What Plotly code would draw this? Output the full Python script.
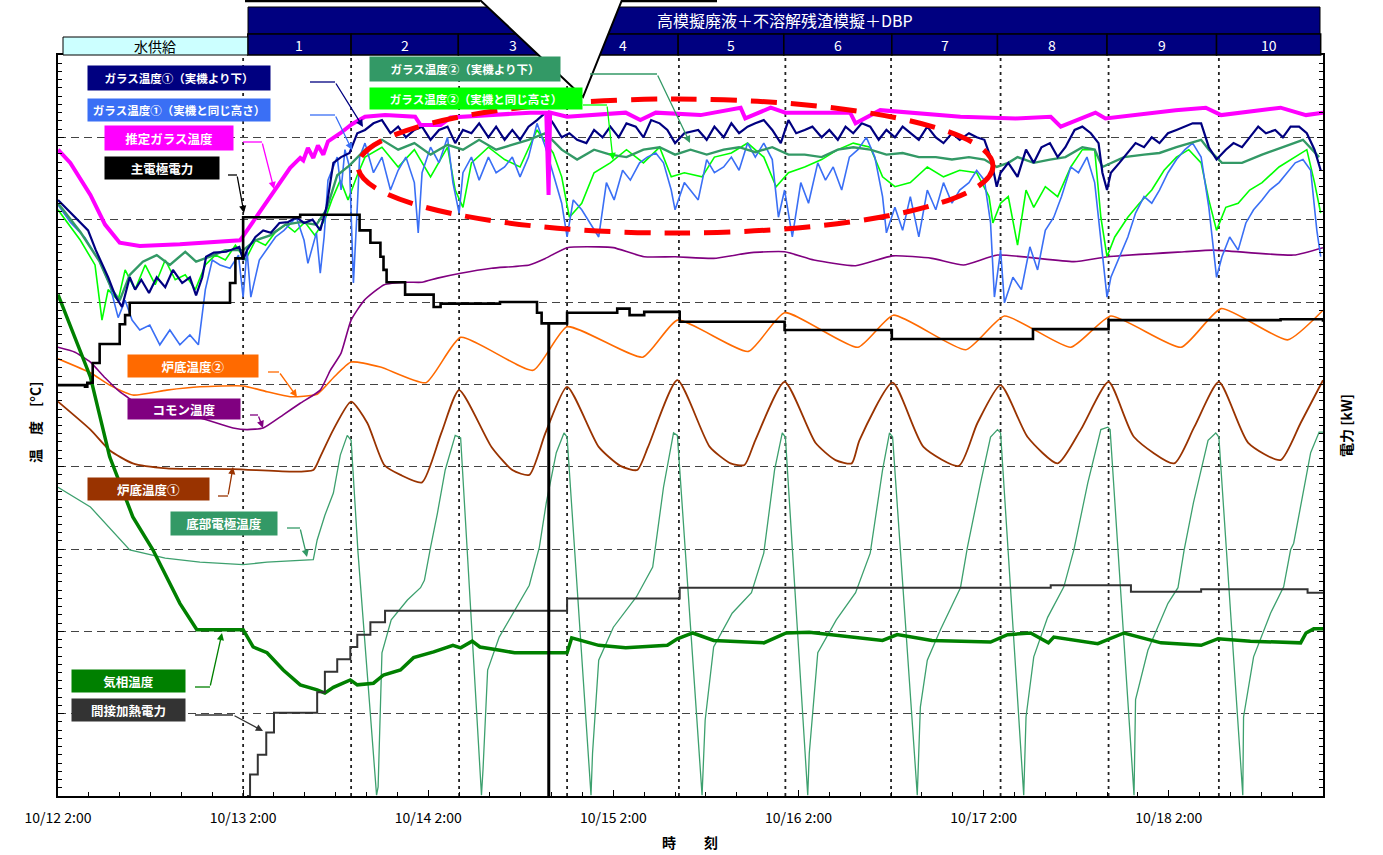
import pandas as pd
import plotly.graph_objects as go

# ---------------- data (hours since 10/12 2:00, temperature / power values) ----------------
START = "2010-10-12 02:00"
END_HOURS = 164.0

glass1_low = [(0,724),(1.7,708),(3.9,687),(4.9,663),(6.5,630),(7.5,606),(8.3,594),(9.3,630),(10.0,615),(10.8,627),(11.8,611),(12.8,630),(13.9,618),(14.9,639),(16.1,623),(17.1,630),(17.9,608),(18.7,630),(19.2,655),(20.2,660),(21.8,661),(23.5,667),(24.0,651),(24.5,663),(25.6,679),(26.6,687),(27.6,684),(28.7,696),(29.8,697),(30.9,703),(31.9,696),(33.0,700),(34.0,687),(34.8,715),(35.7,769),(36.7,776),(37.8,781),(38.8,805),(39.8,809),(40.9,817),(42.0,821),(43.1,805),(44.1,813),(45.1,800),(46.2,809),(47.2,813),(48.3,797),(49.4,809),(50.5,813),(51.5,793),(52.5,809),(53.6,805),(54.6,817),(55.8,800),(56.8,813),(57.9,797),(58.9,809),(59.9,797),(61.0,813),(62.1,821),(63.2,830),(64.2,817),(65.3,800),(66.3,805),(67.3,797),(68.5,793),(69.5,809),(70.6,800),(71.6,813),(72.7,800),(73.7,817),(74.9,813),(75.9,800),(76.9,821),(78.0,817),(79.0,809),(80.0,793),(81.2,805),(83.0,809),(84.1,797),(85.1,813),(86.3,800),(87.3,817),(88.3,805),(89.4,813),(90.4,817),(91.5,821),(92.6,809),(93.7,793),(94.7,821),(95.7,805),(96.8,809),(97.8,813),(99.0,800),(100.0,809),(101.1,797),(102.1,813),(103.1,805),(104.2,817),(105.3,813),(106.4,797),(107.4,809),(108.5,800),(109.5,813),(110.5,805),(111.6,797),(112.7,813),(113.8,800),(114.8,793),(115.9,805),(116.9,797),(118.1,805),(119.1,800),(120.1,797),(120.9,776),(121.7,740),(122.2,757),(123.2,769),(124.4,752),(125.5,785),(126.5,769),(127.5,788),(128.6,793),(129.6,776),(130.6,788),(131.8,809),(132.8,813),(133.9,805),(134.9,793),(135.4,757),(136.0,736),(136.5,757),(137.6,769),(138.7,781),(139.7,793),(140.8,788),(141.8,800),(142.8,793),(143.9,805),(145.0,809),(146.1,813),(147.1,817),(148.2,817),(149.2,788),(150.2,773),(151.4,785),(152.4,793),(153.5,788),(154.5,800),(155.6,813),(156.6,805),(157.8,809),(158.8,800),(159.8,813),(160.9,813),(161.9,805),(162.9,785),(163.7,760)]

glass1_same = [(0,718),(1.6,697),(3.5,678),(5.4,649),(6.7,621),(7.8,581),(8.7,602),(9.6,578),(10.6,566),(11.9,572),(13.2,548),(14.5,566),(15.8,548),(17.1,560),(18.2,548),(19.1,615),(20.0,651),(21.0,645),(22.3,641),(23.4,657),(24.0,606),(24.5,663),(25.0,606),(26.1,651),(28.2,679),(29.3,687),(30.9,703),(31.9,675),(32.4,647),(33.5,684),(34.0,635),(34.5,679),(35.0,748),(36.2,776),(36.7,736),(37.2,785),(37.8,764),(38.3,623),(38.8,715),(39.1,776),(39.8,793),(40.9,757),(42.0,776),(43.1,736),(44.1,760),(45.1,776),(46.2,745),(46.7,684),(47.2,757),(48.3,788),(49.4,769),(50.5,800),(51.2,745),(52.0,708),(52.5,757),(53.6,776),(54.6,748),(55.8,776),(56.8,757),(57.9,764),(58.9,776),(59.9,752),(61.0,776),(62.1,817),(63.2,788),(64.2,757),(65.3,720),(66.0,679),(66.8,724),(67.9,712),(69.0,696),(70.1,679),(71.1,745),(72.1,724),(73.2,760),(74.2,748),(75.4,769),(76.4,776),(77.5,781),(78.5,769),(79.5,736),(80.0,712),(81.2,745),(83.0,724),(84.1,773),(85.1,757),(86.3,764),(87.3,776),(88.3,760),(89.4,793),(90.4,776),(91.5,793),(92.6,773),(93.4,703),(94.2,736),(95.2,679),(96.3,745),(97.3,720),(98.5,769),(99.5,748),(100.5,764),(101.6,736),(102.6,776),(103.7,785),(104.8,800),(105.9,776),(106.9,728),(107.4,684),(108.5,715),(109.5,687),(110.5,728),(111.6,679),(112.7,736),(113.8,712),(114.8,745),(115.9,720),(116.9,736),(118.1,745),(119.1,760),(120.1,748),(120.9,696),(121.4,606),(122.2,663),(122.7,599),(123.8,630),(124.9,615),(126.0,667),(127.0,639),(128.0,687),(129.1,703),(130.1,728),(131.3,764),(132.3,757),(133.4,776),(134.4,745),(135.2,675),(136.0,606),(136.5,630),(137.6,655),(138.7,679),(139.7,708),(140.8,728),(141.8,720),(142.8,736),(143.9,757),(145.0,773),(146.1,785),(147.1,793),(148.2,776),(149.2,715),(150.2,630),(150.9,655),(151.9,679),(153.0,663),(154.0,696),(155.0,712),(156.1,724),(157.1,736),(158.3,745),(159.3,757),(160.4,769),(161.4,773),(162.4,760),(163.2,687),(163.7,655)]

glass2_low = [(0,720),(2.9,685),(5.4,649),(7.0,615),(8.0,602),(9.3,633),(11.0,649),(12.8,657),(14.5,645),(16.5,661),(17.9,649),(19.7,655),(21.7,663),(24.0,663),(25.6,675),(27.5,681),(29.5,694),(31.4,697),(33.5,694),(34.8,712),(36.2,754),(37.8,766),(39.8,785),(42.0,797),(44.1,785),(46.2,793),(48.3,779),(50.5,791),(52.5,785),(54.6,797),(56.8,785),(58.9,791),(61.0,797),(63.2,805),(65.3,785),(67.3,773),(69.5,785),(71.6,779),(73.7,776),(75.9,785),(78.0,788),(80.0,779),(82.0,785),(84.1,779),(86.3,785),(88.3,788),(90.4,782),(92.6,788),(94.7,779),(96.8,779),(99.0,776),(101.1,785),(103.1,788),(105.3,785),(107.4,779),(109.5,781),(111.6,776),(113.8,776),(115.9,773),(118.1,776),(120.1,773),(121.7,764),(123.2,769),(124.4,776),(126.5,769),(128.6,773),(130.6,776),(132.8,788),(134.4,785),(135.4,764),(136.5,769),(138.2,776),(140.8,779),(142.8,781),(145.0,788),(148.2,797),(149.2,785),(150.9,769),(153.5,769),(156.1,779),(158.8,788),(161.4,797),(163.5,776)]

glass2_same = [(0,712),(2.9,675),(4.8,645),(5.7,578),(6.5,615),(7.8,602),(8.7,639),(10.0,615),(11.3,645),(12.6,621),(13.9,651),(15.2,627),(16.5,633),(17.8,615),(19.1,645),(20.4,657),(21.7,651),(23.0,669),(24.3,651),(25.6,675),(26.9,669),(28.2,685),(29.5,694),(30.7,685),(32.0,697),(33.3,681),(34.6,700),(35.5,724),(36.6,748),(37.6,724),(38.8,754),(39.8,776),(42.0,788),(44.1,764),(46.2,785),(48.3,752),(50.5,788),(51.5,736),(52.5,715),(53.6,769),(55.8,788),(57.9,773),(59.9,764),(62.1,809),(64.2,781),(65.3,752),(66.3,703),(67.9,720),(69.5,757),(71.6,769),(73.7,785),(75.9,769),(78.0,788),(79.5,752),(81.2,757),(83.5,752),(85.1,776),(87.3,781),(89.4,793),(91.5,776),(93.1,740),(94.7,757),(96.8,764),(99.0,773),(101.1,785),(103.1,793),(105.3,788),(106.9,752),(108.5,740),(110.5,745),(112.7,764),(114.8,752),(116.9,760),(119.1,757),(120.7,728),(121.2,696),(122.2,720),(123.2,728),(124.4,669),(125.5,736),(126.5,715),(128.0,740),(129.6,728),(131.3,764),(132.8,785),(134.4,785),(135.2,703),(136.0,655),(137.0,679),(138.7,703),(140.2,720),(141.8,736),(143.4,760),(145.0,776),(146.6,785),(148.2,769),(149.2,724),(150.2,687),(151.4,715),(153.0,720),(154.5,736),(156.1,745),(158.3,764),(160.4,776),(161.9,785),(162.9,745),(163.7,708)]

glass_estimated = [(0,785),(1.6,769),(4.2,730),(6.1,694),(8.0,672),(10.6,668),(15.8,670),(21.0,673),(23.6,675),(24.0,680),(25.6,702),(26.9,718),(28.2,738),(30.1,763),(31.4,775),(31.8,772),(32.4,787),(33.1,775),(33.7,790),(34.4,779),(35.0,795),(36.6,805),(38.1,816),(39.8,825),(42.4,827),(46.3,825),(47.0,815),(49.6,815),(50.9,824),(56.0,827),(61.2,830),(63.3,830),(63.6,730),(63.8,830),(66.0,825),(73.6,830),(75.5,821),(77.5,830),(83.3,827),(88.5,836),(89.1,823),(92.4,836),(94.3,830),(102.7,830),(103.4,817),(106.6,833),(117.0,825),(124.2,823),(128.7,825),(130.0,813),(134.5,830),(135.8,823),(144.9,833),(148.8,836),(150.8,827),(158.5,836),(161.8,827),(164.0,830)]

main_power_kw = [(0,49.9),(3.5,49.7),(3.8,50.2),(4.5,52.6),(5.4,54.9),(8.0,57.3),(8.7,58.4),(9.3,59.9),(22.3,62.3),(23.0,65.3),(24.0,70.3),(31.4,70.6),(39.1,68.7),(40.5,67.2),(41.8,65.5),(42.2,63.9),(42.6,62.4),(45.0,60.9),(48.7,59.4),(49.6,59.8),(57.3,60.0),(62.1,58.7),(62.7,57.4),(63.6,0.0),(63.65,57.4),(66.0,58.7),(72.5,59.2),(74.1,58.4),(76.0,58.8),(80.6,57.6),(94.2,56.6),(108.1,55.5),(126.4,56.7),(136.2,57.8),(158.5,57.9),(164.0,57.6)]

hearth2_temp = [(0,531),(4.2,514),(6.7,499),(9.7,487),(14.1,493),(18.4,497),(24.0,498),(27.1,491),(30.1,485),(33.6,488),(35.7,508),(38.0,527),(41.8,521),(47.7,502),(52.2,557),(61.6,517),(66.0,570),(75.8,533),(80.3,578),(89.5,540),(94.2,587),(103.7,545),(108.3,584),(117.7,542),(122.7,583),(131.3,545),(136.5,583),(145.6,545),(150.8,592),(159.4,554),(164.0,590)]

common_temp = [(0,545),(2.2,539),(4.2,527),(6.1,508),(8.0,491),(10.6,475),(14.5,465),(18.4,459),(22.7,447),(24.5,445),(26.6,447),(29.2,463),(31.4,477),(34.0,493),(35.3,517),(36.7,538),(38.0,578),(39.7,602),(42.3,621),(45.3,624),(47.2,624),(49.2,629),(52.2,635),(56.2,641),(61.1,645),(63.2,653),(66.0,666),(70.1,667),(72.0,666),(76.0,655),(80.0,655),(85.0,653),(89.9,660),(94.2,661),(98.0,651),(103.4,644),(108.2,656),(113.3,653),(117.4,645),(121.8,657),(131.7,649),(136.1,655),(146.0,661),(149.8,663),(160.2,657),(164.0,666)]

hearth1_temp = [(0,479),(4.2,445),(6.7,420),(9.7,404),(14.1,398),(22.7,397),(30.1,394),(33.1,396),(34.0,412),(35.7,445),(38.0,479),(40.1,453),(42.3,402),(44.4,390),(47.2,381),(49.7,441),(52.0,493),(56.2,424),(58.9,396),(61.1,390),(63.2,441),(66.0,497),(70.1,424),(72.9,401),(75.1,396),(76.5,424),(80.3,505),(84.5,424),(87.2,404),(89.0,402),(90.4,432),(94.2,503),(98.2,429),(100.8,408),(102.9,404),(103.9,432),(108.2,502),(112.2,424),(116.8,401),(119.2,453),(122.2,499),(125.7,436),(129.6,404),(132.6,445),(136.2,503),(139.5,436),(144.7,404),(147.3,448),(150.5,503),(154.3,429),(158.5,408),(161.1,453),(164.0,505)]

bottom_electrode_temp = [(0,375),(4.2,351),(9.3,299),(13.9,289),(18.4,284),(24.0,281),(27.1,284),(33.1,287),(33.6,311),(34.6,341),(35.7,368),(36.6,414),(37.5,438),(38.0,432),(38.9,295),(40.2,132),(41.3,1),
    (41.5,11),(42.0,174),(43.2,214),(45.3,238),(47.0,253),(47.5,262),(48.3,302),(49.2,344),(50.2,396),(51.5,438),(52.2,435),(54.9,1),
    (55.1,32),(55.7,153),(57.2,193),(59.2,226),(61.1,256),(62.4,302),(63.3,356),(64.6,417),(65.6,441),(66.0,436),(69.1,1),
    (69.3,52),(70.1,165),(72.0,205),(75.0,242),(77.1,278),(78.5,375),(79.8,441),(80.3,438),(83.5,1),
    (83.9,92),(85.0,181),(87.4,222),(89.9,247),(91.5,295),(92.9,396),(93.9,441),(94.3,436),(97.2,1),
    (97.4,52),(98.5,174),(100.9,214),(103.4,247),(105.3,295),(106.9,396),(107.8,441),(108.2,436),(111.4,1),
    (111.8,108),(112.7,165),(114.4,202),(117.0,253),(117.9,302),(119.6,380),(120.9,436),(121.8,445),(122.2,441),(125.2,1),
    (125.5,96),(126.5,169),(128.3,217),(130.4,254),(131.7,299),(133.5,380),(135.2,445),(136.1,448),(136.4,445),(139.5,1),
    (139.7,117),(141.3,177),(143.9,234),(145.2,253),(146.0,299),(147.2,356),(149.1,432),(150.1,441),(150.5,436),(153.6,1),
    (153.7,96),(155.0,169),(157.2,222),(158.9,254),(159.8,299),(160.2,307),(162.4,417),(163.5,442),(164.0,442)]

gas_phase_temp = [(0,609),(4.2,509),(6.7,412),(9.7,339),(12.3,299),(15.8,234),(18.0,202),(24.0,202),(25.3,181),(27.1,174),(29.2,153),(31.4,135),(33.6,129),(34.6,125),(35.7,132),(37.9,141),(38.8,135),(40.9,137),(42.2,147),(44.4,153),(46.1,168),(48.7,175),(51.2,183),(52.2,180),(53.7,188),(54.7,181),(57.3,177),(59.2,174),(63.2,174),(66.0,174),(66.6,192),(70.1,183),(73.6,180),(79.0,183),(80.3,191),(82.3,198),(85.0,189),(91.5,186),(94.4,198),(97.4,199),(106.9,189),(108.8,196),(113.3,189),(120.9,187),(123.1,196),(126.1,198),(128.4,186),(129.1,193),(134.8,185),(138.2,198),(143.0,186),(148.2,183),(150.4,191),(154.6,188),(161.1,186),(161.8,198),(162.8,203),(164.0,203)]

indirect_power_kw = [(24.5,0.0),(24.9,2.6),(25.9,5.0),(27.0,7.7),(28.0,10.1),(33.6,12.6),(34.6,15.1),(36.2,16.6),(37.9,18.1),(38.8,19.6),(40.5,21.1),(42.4,22.5),(66.0,24.0),(80.6,25.3),(128.7,25.6),(139.1,24.8),(148.2,25.1),(162.0,24.7),(164.0,24.7)]

batch_lines_h = [24, 38, 52, 66, 80.5, 94.3, 108, 122.2, 136.2, 150.5]
header_edges_h = [24.6, 38.0, 51.9, 66.0, 80.4, 94.1, 108.1, 121.8, 136.0, 150.2, 163.7]
header_numbers = ["1", "2", "3", "4", "5", "6", "7", "8", "9", "10"]
water_supply_h = [0.65, 24.6]
header_title = "高模擬廃液＋不溶解残渣模擬＋DBP"
water_label = "水供給"

# ---------------- figure ----------------
BASE = pd.Timestamp(START)
def T(hours):
    return [BASE + pd.Timedelta(hours=float(h)) for h in hours]

FONT = "Noto Sans CJK JP"
W, H = 1383, 855
PL, PR, PT, PB = 58, 1323, 55, 796
def px(x):
    return (x - PL) / (PR - PL)
def py(y):
    return (PB - y) / (PB - PT)

C_NAVY = "#000080"
C_BLUE = "#3a6ff5"
C_MAG = "#ff00ff"
C_BLACK = "#000000"
C_SEA = "#339966"
C_LIME = "#00ff00"
C_ORANGE = "#ff6a00"
C_PURPLE = "#800080"
C_BROWN = "#993300"
C_GREEN = "#008000"
C_GRAY = "#333333"

fig = go.Figure()

def add(series, color, width, yaxis="y", shape="linear", smoothing=None):
    h, v = zip(*series)
    line = dict(color=color, width=width, shape=shape)
    if smoothing is not None:
        line["smoothing"] = smoothing
    fig.add_trace(go.Scatter(x=T(h), y=list(v), mode="lines", line=line, yaxis=yaxis,
                             showlegend=False, hoverinfo="skip"))

add(bottom_electrode_temp, "#3da06e", 1.3)
add(hearth1_temp, C_BROWN, 1.8, shape="spline", smoothing=0.6)
add(hearth2_temp, C_ORANGE, 1.6, shape="spline", smoothing=0.5)
add(common_temp, C_PURPLE, 1.6, shape="spline", smoothing=0.5)
add(glass2_same, C_LIME, 1.6)
add(glass1_same, C_BLUE, 1.6)
add(glass2_low, C_SEA, 2.4)
add(glass1_low, C_NAVY, 2.2)
add(glass_estimated, C_MAG, 4)
add(gas_phase_temp, C_GREEN, 3.5)
add(indirect_power_kw, C_GRAY, 2, yaxis="y2", shape="hv")
add(main_power_kw, C_BLACK, 2.6, yaxis="y2", shape="hv")

shapes = []
for h in batch_lines_h:
    t = T([h])[0]
    shapes.append(dict(type="line", xref="x", yref="paper", x0=t, x1=t, y0=0, y1=1,
                       line=dict(color="#222222", width=1.8, dash="3px,4px"), layer="below"))
shapes.append(dict(type="circle", xref="paper", yref="paper", x0=px(358), x1=px(993), y0=py(233), y1=py(99),
                   line=dict(color="#ff0000", width=5, dash="26px,14px"), layer="above"))
shapes.append(dict(type="rect", xref="paper", yref="paper", x0=px(248), x1=px(1320), y0=py(34), y1=py(7),
                   fillcolor=C_NAVY, line=dict(color="#000000", width=1), layer="above"))
for i in range(len(header_numbers)):
    t0, t1 = T([header_edges_h[i], header_edges_h[i + 1]])
    shapes.append(dict(type="rect", xref="x", yref="paper", x0=t0, x1=t1, y0=py(55), y1=py(34),
                       fillcolor=C_NAVY, line=dict(color="#000000", width=1.5), layer="above"))
w0, w1 = T(water_supply_h)
shapes.append(dict(type="rect", xref="x", yref="paper", x0=w0, x1=w1, y0=py(55), y1=py(37),
                   fillcolor="#ccffff", line=dict(color="#000000", width=1), layer="above"))
tri = f"M {px(474.7)},{py(-5)} L {px(583)},{py(97)} L {px(624)},{py(-5)} Z"
shapes.append(dict(type="path", xref="paper", yref="paper", path=tri, fillcolor="#ffffff",
                   line=dict(color="#000000", width=2), layer="above"))
for (xa, xb) in [(245, 480), (622, 717)]:
    shapes.append(dict(type="line", xref="paper", yref="paper", x0=px(xa), x1=px(xb), y0=py(1), y1=py(1),
                       line=dict(color="#000000", width=2.5), layer="above"))

annotations = []
annotations.append(dict(xref="paper", yref="paper", x=px(785), y=py(20), text=header_title, showarrow=False,
                        font=dict(family=FONT, size=16, color="white"), xanchor="center", yanchor="middle"))
for i, lab in enumerate(header_numbers):
    mid = T([(header_edges_h[i] + header_edges_h[i + 1]) / 2])[0]
    annotations.append(dict(xref="x", yref="paper", x=mid, y=py(45), text=lab, showarrow=False,
                            font=dict(family=FONT, size=14, color="white"), xanchor="center", yanchor="middle"))
annotations.append(dict(xref="x", yref="paper", x=T([sum(water_supply_h) / 2])[0], y=py(46), text=water_label,
                        showarrow=False, font=dict(family=FONT, size=14, color="black"),
                        xanchor="center", yanchor="middle"))

labels = [
    ("ガラス温度①（実機より下）", C_NAVY, (179, 78), 182, 24),
    ("ガラス温度①（実機と同じ高さ）", C_BLUE, (179, 110), 182, 22),
    ("推定ガラス温度", C_MAG, (169, 138), 128, 24),
    ("主電極電力", C_BLACK, (162, 168), 114, 22),
    ("ガラス温度②（実機より下）", C_SEA, (465, 69), 190, 24),
    ("ガラス温度②（実機と同じ高さ）", C_LIME, (476, 98), 212, 21),
    ("炉底温度②", C_ORANGE, (193, 366), 130, 22),
    ("コモン温度", C_PURPLE, (184, 409), 112, 20),
    ("炉底温度①", C_BROWN, (148.5, 489), 121, 22),
    ("底部電極温度", C_SEA, (224, 523.5), 106, 23),
    ("気相温度", C_GREEN, (128.5, 681), 113, 22),
    ("間接加熱電力", C_GRAY, (128.5, 710), 113, 22),
]
for text, col, (cx, cy), w, h in labels:
    size = 11.5 if len(text) > 12 else 12.5
    annotations.append(dict(xref="paper", yref="paper", x=px(cx), y=py(cy), text=f"<b>{text}</b>",
                            showarrow=False, bgcolor=col, width=w, height=h, borderpad=0,
                            font=dict(family=FONT, size=size, color="white"),
                            xanchor="center", yanchor="middle", align="center", valign="middle"))

leaders = [
    (C_NAVY, (310, 82), (335, 82), (363, 127)),
    (C_BLUE, (310, 115), (335, 115), (352, 150)),
    (C_MAG, (243, 142), (262, 142), (274, 189)),
    (C_BLACK, (228, 175), (237, 175), (244, 213)),
    (C_SEA, (590, 74), (657, 74), (690, 143)),
    (C_LIME, (583, 105), (607, 105), (613, 160)),
    (C_ORANGE, (268, 372), (279, 372), (297, 397)),
    (C_PURPLE, (250, 415), (258, 415), (263, 428)),
    (C_BROWN, (218, 496), (228, 496), (233, 467)),
    (C_SEA, (287, 528), (300, 528), (307, 557)),
    (C_GREEN, (195, 687), (210, 687), (222, 633)),
    (C_GRAY, (195, 715), (233, 715), (263, 731)),
]
for col, a, b, c in leaders:
    shapes.append(dict(type="line", xref="paper", yref="paper", x0=px(a[0]), y0=py(a[1]), x1=px(b[0]), y1=py(b[1]),
                       line=dict(color=col, width=1.3), layer="above"))
    annotations.append(dict(xref="paper", yref="paper", x=px(c[0]), y=py(c[1]), text="", showarrow=True,
                            ax=b[0] - c[0], ay=b[1] - c[1], arrowhead=2, arrowsize=1.1, arrowwidth=1.3,
                            arrowcolor=col, standoff=0, startstandoff=0))

annotations.append(dict(xref="paper", yref="paper", x=px(35), y=py(423), text="<b>温　度　[°C]</b>", textangle=-90,
                        showarrow=False, font=dict(family=FONT, size=14, color="black"),
                        xanchor="center", yanchor="middle"))
annotations.append(dict(xref="paper", yref="paper", x=px(1346), y=py(425), text="<b>電力 [kW]</b>", textangle=-90,
                        showarrow=False, font=dict(family=FONT, size=14, color="black"),
                        xanchor="center", yanchor="middle"))
annotations.append(dict(xref="paper", yref="paper", x=px(690), y=py(842), text="<b>時　　刻</b>",
                        showarrow=False, font=dict(family=FONT, size=14, color="black"),
                        xanchor="center", yanchor="middle"))

end_t = BASE + pd.Timedelta(hours=END_HOURS)
fig.update_layout(
    width=W, height=H,
    margin=dict(l=PL, r=W - PR, t=PT, b=H - PB),
    plot_bgcolor="white", paper_bgcolor="white",
    font=dict(family=FONT, size=13, color="black"),
    showlegend=False,
    shapes=shapes, annotations=annotations,
    xaxis=dict(type="date", range=[BASE, end_t], tick0=BASE, dtick=86400000,
               tickformat="%m/%d %-H:%M", ticks="inside", ticklen=6, tickcolor="black",
               minor=dict(dtick=4 * 3600 * 1000, tick0=BASE, ticks="inside", ticklen=4, tickcolor="black"),
               showgrid=False, showline=True, linecolor="black", linewidth=2, mirror=True,
               ticklabelstandoff=8, tickfont=dict(family=FONT, size=14, color="black")),
    yaxis=dict(range=[0, 900], dtick=100, showticklabels=False, ticks="inside", ticklen=6, tickcolor="black",
               minor=dict(dtick=10, ticks="inside", ticklen=4, tickcolor="black"),
               showgrid=True, gridcolor="#444444", gridwidth=1, griddash="8px,5px",
               zeroline=False, showline=True, linecolor="black", linewidth=2),
    yaxis2=dict(range=[0, 90], dtick=10, overlaying="y", side="right", showticklabels=False,
                ticks="inside", ticklen=6, tickcolor="black",
                minor=dict(dtick=1, ticks="inside", ticklen=4, tickcolor="black"),
                showgrid=False, zeroline=False, showline=True, linecolor="black", linewidth=2),
)

fig.write_html("out.html", config={"displayModeBar": False},
               post_script="document.body.style.margin='0';document.body.style.overflow='hidden';")
